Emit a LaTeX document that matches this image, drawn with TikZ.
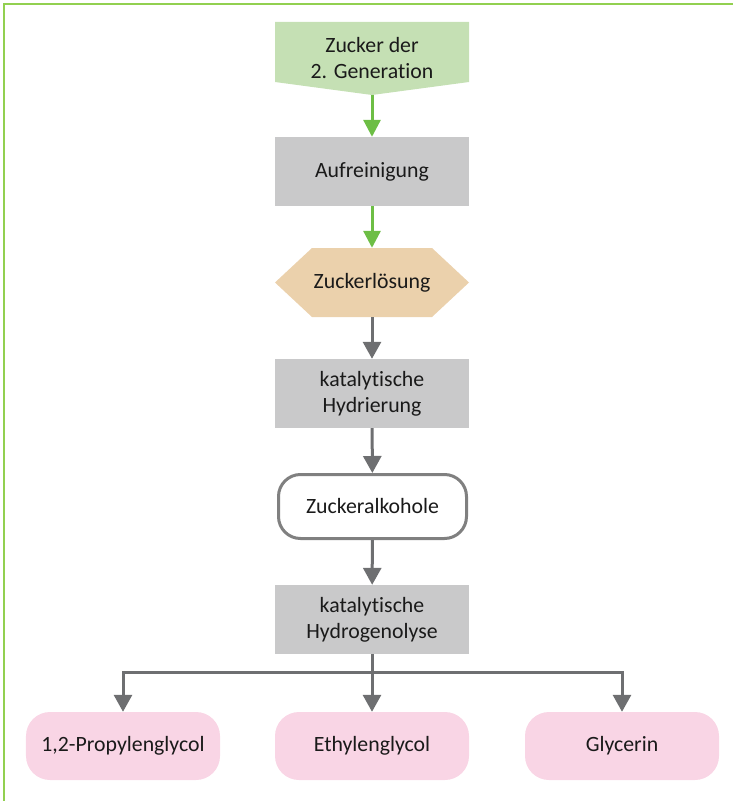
\documentclass[tikz,border=0pt]{standalone}
\usepackage{fontspec}
\setmainfont{Carlito}[Ligatures={NoCommon}]
\usetikzlibrary{arrows.meta}
\definecolor{framegreen}{HTML}{92D050}
\definecolor{srcgreen}{HTML}{C5E0B4}
\definecolor{arrgreen}{HTML}{6DBE45}
\definecolor{procgray}{HTML}{C9C9CA}
\definecolor{hexfill}{HTML}{EBD1AC}
\definecolor{pinkfill}{HTML}{F9D5E5}
\definecolor{arrgray}{HTML}{6E6F71}
\definecolor{bordgray}{HTML}{808080}
\definecolor{txt}{HTML}{1A1A1A}
\tikzset{
  x=1bp, y=-1bp,
  every node/.style={font=\fontsize{21.8bp}{26bp}\selectfont, text=txt, align=center, inner sep=0pt},
  proc/.style={fill=procgray, minimum width=194bp, minimum height=69bp},
  shapeholder/.style={minimum width=194bp, minimum height=69bp},
  term/.style={draw=bordgray, line width=3bp, fill=white, rounded corners=22bp, minimum width=188bp, minimum height=64bp},
  prod/.style={fill=pinkfill, rounded corners=24bp, minimum width=194bp, minimum height=68bp},
  greenarr/.style={draw=arrgreen, line width=3bp, -{Triangle[width=17bp,length=17bp]}},
  grayarr/.style={draw=arrgray, line width=3bp, -{Triangle[width=18bp,length=17bp]}},
}
\begin{document}
\begin{tikzpicture}
\useasboundingbox (0,0) rectangle (733,801);
% frame
\draw[framegreen, line width=2bp] (4,801) -- (4,4) -- (733,4);
% source shape
\fill[srcgreen] (275,22) -- (469,22) -- (469,82) -- (372,95) -- (275,82) -- cycle;
\node[minimum width=194bp, minimum height=73bp] (src) at (372,58.5) {Zucker der\\2. Generation};
% Aufreinigung
\node[proc] (auf) at (372,171.5) {Aufreinigung};
% hexagon
\fill[hexfill] (275,282.5) -- (312,248) -- (432,248) -- (469,282.5) -- (432,317) -- (312,317) -- cycle;
\node[shapeholder] (hex) at (372,282.5) {Zuckerlösung};
% hydrierung
\node[proc] (hyd) at (372,393.5) {katalytische\\Hydrierung};
% Zuckeralkohole
\node[term] (alk) at (372.5,506.5) {Zuckeralkohole};
% hydrogenolyse
\node[proc] (hgl) at (372,619.5) {katalytische\\Hydrogenolyse};
% products
\node[prod] (prop) at (123,746) {1,2-Propylenglycol};
\node[prod] (eth) at (372,746) {Ethylenglycol};
\node[prod] (gly) at (622,746) {Glycerin};
% connectors
\draw[greenarr] (src) -- (auf);
\draw[greenarr] (auf) -- (hex);
\draw[grayarr] (hex) -- (hyd);
\draw[grayarr] (hyd) -- (alk);
\draw[grayarr] (alk) -- (hgl);
\coordinate (split) at ([yshift=-18bp]hgl.south);
\draw[grayarr] (hgl.south) -- (eth.north);
\draw[grayarr] (split) -| (prop.north);
\draw[grayarr] (split) -| (gly.north);
\end{tikzpicture}
\end{document}
